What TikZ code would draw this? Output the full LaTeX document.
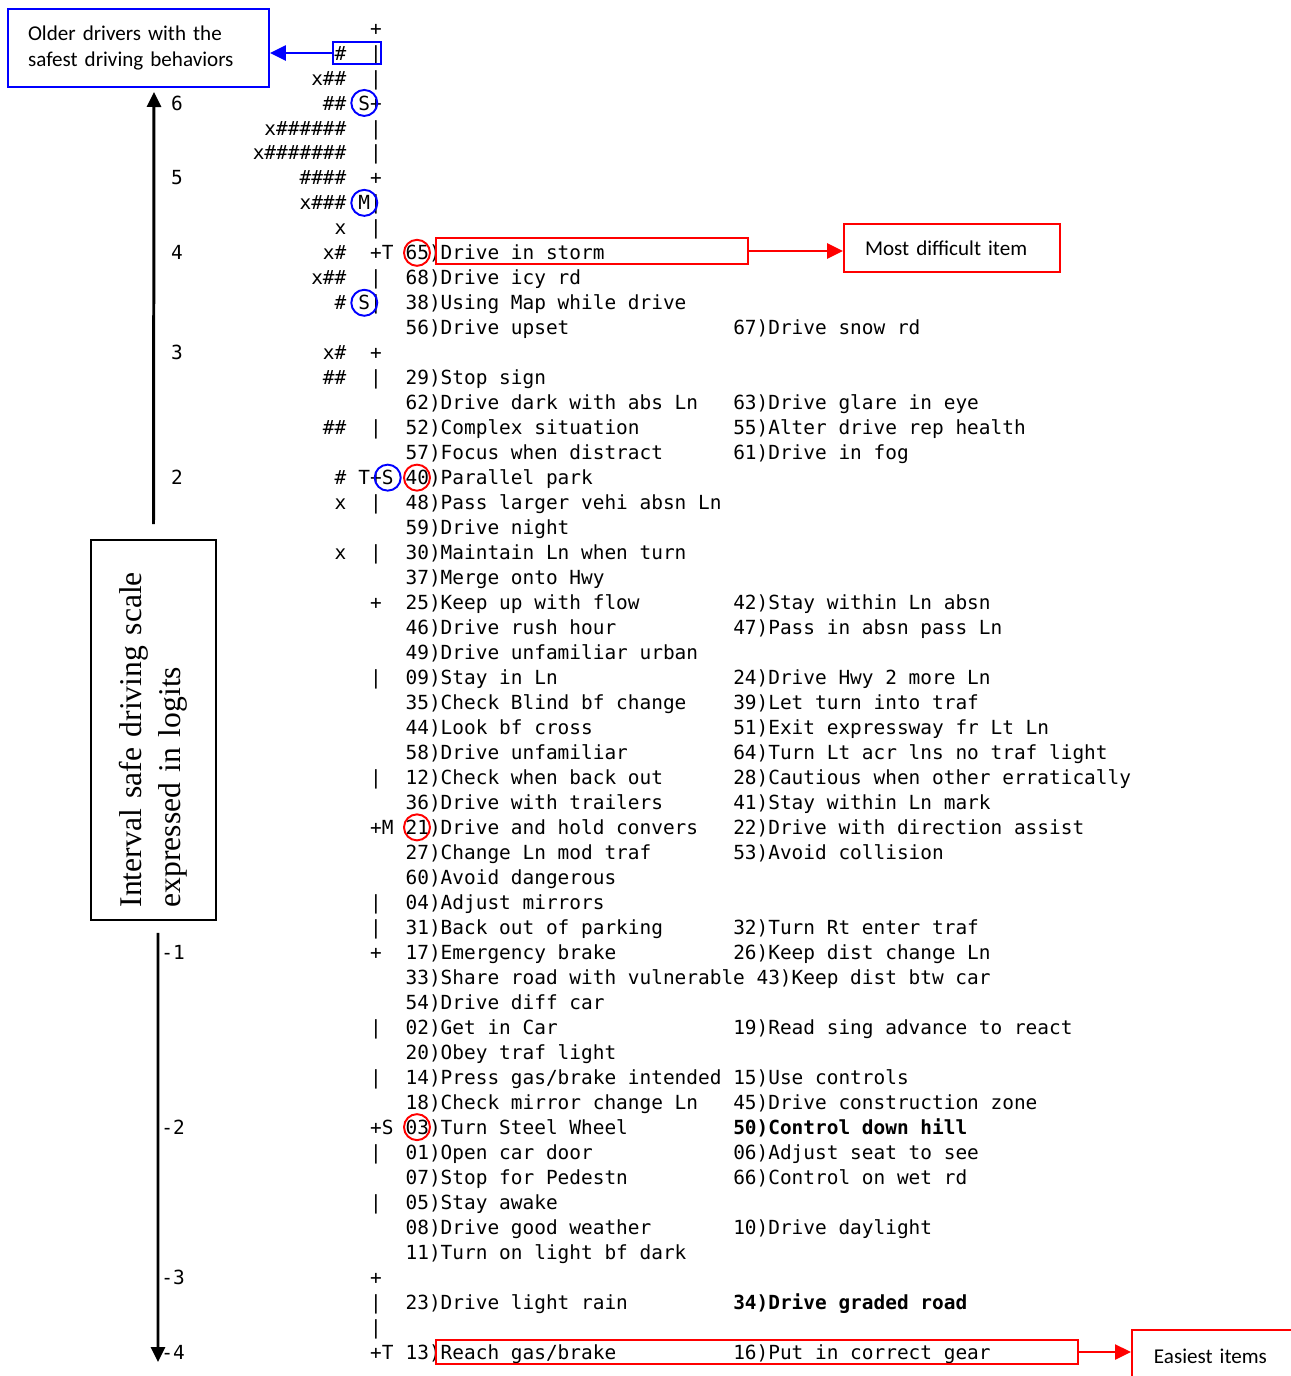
\documentclass[tikz,border=0pt]{standalone}
\usepackage{fontspec}
\setmainfont{Liberation Serif}
\setsansfont{Carlito}
\setmonofont{DejaVu Sans Mono}
\usepackage{tikz}
\usetikzlibrary{positioning,arrows.meta}
\tikzset{
  % Specifications for style of nodes:
  base/.style = {
    rectangle,
    draw=black,
    line width=1.1pt
  },
  callout/.style = {
    base,
    font=\sffamily\fontsize{12}{14.8}\selectfont,
    align=left,
    inner ysep=0pt
  },
  mono/.style = {
    font=\ttfamily\fontsize{11.06}{13}\selectfont,
    inner sep=0pt,
    text height=8.06pt,
    text depth=0pt
  },
  item/.style = {mono, anchor=west},
  person/.style = {mono, anchor=east},
  ring/.style = {
    circle,
    line width=1.1pt,
    minimum size=0.52cm,
    inner sep=0pt
  },
  tag/.style = {
    rectangle,
    line width=1.1pt,
    inner sep=0pt
  },
  pointer/.style = {line width=1.4pt, -{Triangle[length=0.32cm, width=0.3cm]}},
  axis/.style = {line width=1.7pt, -{Triangle[length=0.3cm, width=0.28cm]}},
}

\begin{document}
\begin{tikzpicture}[x=0.02cm, y=-0.02cm]
    \useasboundingbox (0,0) rectangle (1291,1376);
    \clip (0,0) rectangle (1291,1376);

    % Logit scale on the left
    \node[base, rotate=90, text width=7.1cm, inner xsep=0.25cm, minimum height=2.5cm, align=left,
          font=\rmfamily\fontsize{18}{22.5}\selectfont] (scale) at (153.5,730)
          {Interval safe driving scale\\expressed in logits};
    \coordinate (uptip)   at (154,92);
    \coordinate (downtip) at (158,1362);
    \draw[axis] ([yshift=0.3cm]scale.east) -- (uptip);
    \draw[axis] ([xshift=0.09cm, yshift=-0.24cm]scale.west) -- (downtip);
    \foreach \r/\v in {3/6, 6/5, 9/4, 13/3, 18/2}
      \node[mono] (up\v) at (177,{28+24.98*\r}) {\v};
    \foreach \r/\v in {37/1, 44/2, 50/3, 53/4}
      \node[mono, anchor=west] (down\v) at (161,{28+24.98*\r}) {-\v};

    % Persons
    \foreach \r/\t in {1/\#, 2/x\#\#, 3/\#\#, 4/x\#\#\#\#\#\#, 5/x\#\#\#\#\#\#\#,
                       6/\#\#\#\#, 7/x\#\#\#, 8/x, 9/x\#, 10/x\#\#, 11/\#, 13/x\#,
                       14/\#\#, 16/\#\#, 18/\#, 19/x, 21/x}
      \node[person] (persons\r) at (346.7,{28+24.98*\r}) {\t};

    % Axis of the map
    \foreach \r in {0,3,6,9,13,18,23,32,37,44,50,53}
      \node[mono] (plus\r) at (376,{28+24.98*\r}) {+};
    \foreach \r in {1,2,4,5,7,8,10,11,14,16,19,21,26,30,35,36,40,42,45,47,51,52}
      \node[mono] (bar\r) at (376,{28+24.98*\r}) {|};
    \foreach \r/\t in {3/S, 7/M, 11/S, 18/T}
      \node[mono] (lmark\r) at (364.3,{28+24.98*\r}) {\t};
    \foreach \r/\t in {9/T, 18/S, 32/M, 44/S, 53/T}
      \node[mono] (rmark\r) at (387.7,{28+24.98*\r}) {\t};

    % Items
    \foreach \r/\t in {9/{65)Drive in storm}, 10/{68)Drive icy rd}, 11/{38)Using Map while drive},
                       12/{56)Drive upset}, 14/{29)Stop sign}, 15/{62)Drive dark with abs Ln},
                       16/{52)Complex situation}, 17/{57)Focus when distract}, 18/{40)Parallel park},
                       19/{48)Pass larger vehi absn Ln}, 20/{59)Drive night}, 21/{30)Maintain Ln when turn},
                       22/{37)Merge onto Hwy}, 23/{25)Keep up with flow}, 24/{46)Drive rush hour},
                       25/{49)Drive unfamiliar urban}, 26/{09)Stay in Ln}, 27/{35)Check Blind bf change},
                       28/{44)Look bf cross}, 29/{58)Drive unfamiliar}, 30/{12)Check when back out},
                       31/{36)Drive with trailers}, 32/{21)Drive and hold convers}, 33/{27)Change Ln mod traf},
                       34/{60)Avoid dangerous}, 35/{04)Adjust mirrors}, 36/{31)Back out of parking},
                       37/{17)Emergency brake}, 38/{33)Share road with vulnerable 43)Keep dist btw car},
                       39/{54)Drive diff car}, 40/{02)Get in Car}, 41/{20)Obey traf light},
                       42/{14)Press gas/brake intended}, 43/{18)Check mirror change Ln}, 44/{03)Turn Steel Wheel},
                       45/{01)Open car door}, 46/{07)Stop for Pedestn}, 47/{05)Stay awake},
                       48/{08)Drive good weather}, 49/{11)Turn on light bf dark}, 51/{23)Drive light rain},
                       53/{13)Reach gas/brake}}
      \node[item] (itemL\r) at (405.3,{28+24.98*\r}) {\t};
    \foreach \r/\t in {12/{67)Drive snow rd}, 15/{63)Drive glare in eye}, 16/{55)Alter drive rep health},
                       17/{61)Drive in fog}, 23/{42)Stay within Ln absn}, 24/{47)Pass in absn pass Ln},
                       26/{24)Drive Hwy 2 more Ln}, 27/{39)Let turn into traf}, 28/{51)Exit expressway fr Lt Ln},
                       29/{64)Turn Lt acr lns no traf light}, 30/{28)Cautious when other erratically},
                       31/{41)Stay within Ln mark}, 32/{22)Drive with direction assist}, 33/{53)Avoid collision},
                       36/{32)Turn Rt enter traf}, 37/{26)Keep dist change Ln},
                       40/{19)Read sing advance to react}, 42/{15)Use controls}, 43/{45)Drive construction zone},
                       44/{\bfseries 50)Control down hill}, 45/{06)Adjust seat to see}, 46/{66)Control on wet rd},
                       48/{10)Drive daylight}, 51/{\bfseries 34)Drive graded road}, 53/{16)Put in correct gear}}
      \node[item] (itemR\r) at (732.9,{28+24.98*\r}) {\t};

    % Circled markers and items
    \foreach \r in {3,7,11}
      \node[ring, draw=blue] (bluering\r) at (lmark\r) {};
    \node[ring, draw=blue] (bluering18) at (rmark18) {};
    \foreach \r in {9,18,32,44}
      \node[ring, draw=red] (redring\r) at ([xshift=0.234cm]itemL\r.west) {};

    % Callouts
    \node[tag, draw=blue, minimum width=0.96cm, minimum height=0.44cm] (topbin) at (357,53) {};
    \node[callout, draw=blue, text width=4.42cm, inner xsep=0.4cm, minimum height=1.56cm] (older) at (138.5,48)
          {Older drivers with the\\safest driving behaviors};
    \draw[pointer, blue] (topbin.west) -- (topbin.west -| older.east);

    \node[tag, draw=red, minimum width=6.24cm, minimum height=0.52cm] (stormbox) at (592,251) {};
    \node[callout, draw=red, text width=3.48cm, inner xsep=0.42cm, minimum height=0.96cm] (hardest) at (952,248)
          {Most difficult item};
    \draw[pointer, red] (stormbox.east) -- (stormbox.east -| hardest.west);

    \node[tag, draw=red, minimum width=12.84cm, minimum height=0.48cm] (gearbox) at (757,1352) {};
    \node[callout, draw=red, text width=2.98cm, inner xsep=0.44cm, minimum height=1.04cm, anchor=west] (easiest) at (1131,1356)
          {Easiest items};
    \draw[pointer, red] (gearbox.east) -- (gearbox.east -| easiest.west);
\end{tikzpicture}
\end{document}
